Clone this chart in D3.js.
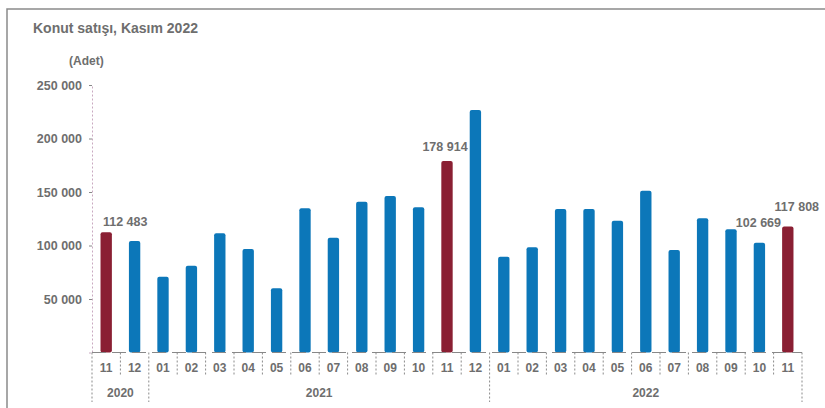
<!DOCTYPE html>
<html><head><meta charset="utf-8">
<script src="https://cdn.jsdelivr.net/npm/d3@7"></script>
<style>body{margin:0;background:#fff}svg{display:block}text{font-family:"Liberation Sans",Arial,sans-serif;font-weight:bold;fill:#6e6e6e}</style>
</head><body><svg id="c" width="825" height="408"></svg>
<script>
const months = ["11","12","01","02","03","04","05","06","07","08","09","10","11","12","01","02","03","04","05","06","07","08","09","10","11"];
const years = [{label:"2020",from:0,to:2},{label:"2021",from:2,to:14},{label:"2022",from:14,to:25}];
const values = [112483,104200,70800,81100,111400,96700,60000,134800,107300,140900,146300,135700,178914,226600,89500,98300,134100,134100,123200,151200,95800,125400,115100,102669,117808];
const highlight = [0,12,24];
const labelled = [0,12,23,24];
const yTicks = [50000,100000,150000,200000,250000];

const svg = d3.select("#c");
const blue = "#0c77b9", red = "#8a1f33";
// frame
svg.append("path").attr("d","M7,410 L7,9 L830,9").attr("fill","none").attr("stroke","#8a8a8a").attr("stroke-width",1.5);

svg.append("text").attr("x",33).attr("y",33).attr("font-size",14).text("Konut satışı, Kasım 2022");
svg.append("text").attr("x",69).attr("y",65).attr("font-size",12).text("(Adet)");

const x = d3.scaleBand().domain(d3.range(months.length)).range([92,802]).paddingInner(0.6).paddingOuter(0.3);
const y = d3.scaleLinear().domain([0,250000]).range([352.5,85]);
const fmt = v => d3.format(",")(v).replace(/,/g," ");

// y axis
const ya = svg.append("g").attr("transform","translate(92,0)")
  .call(d3.axisLeft(y).tickValues(yTicks).tickSize(3).tickPadding(7).tickFormat(fmt));
ya.select(".domain").attr("stroke","#c9a9c0").attr("stroke-dasharray","2,2");
ya.selectAll(".tick line").attr("stroke","#888");
ya.selectAll("text").attr("font-size",12.5).attr("fill","#6e6e6e").style("font-family","Liberation Sans, Arial").style("font-weight","bold");

// bars
svg.append("g").selectAll("rect").data(values).join("rect")
  .attr("x",(d,i)=>x(i)).attr("width",x.bandwidth())
  .attr("y",d=>y(d)).attr("height",d=>y(0)-y(d))
  .attr("rx",2)
  .attr("fill",(d,i)=>highlight.includes(i)?red:blue);

// x baseline
svg.append("line").attr("x1",92).attr("x2",802).attr("y1",y(0)).attr("y2",y(0)).attr("stroke","#888").attr("stroke-dasharray","14,6");

// month separators
const step = x.step();
const sepG = svg.append("g");
d3.range(months.length+1).forEach(i=>{
  const xx = i===0 ? 92 : (i===months.length ? 802 : x(i) - (step - x.bandwidth())/2);
  const isYear = years.some(yy=>yy.from===i) || i===months.length;
  sepG.append("line").attr("x1",xx).attr("x2",xx).attr("y1",y(0)).attr("y2",isYear?402:376)
    .attr("stroke","#8a8a8a").attr("stroke-dasharray","2,2");
});

// month labels
svg.append("g").selectAll("text").data(months).join("text")
  .attr("x",(d,i)=>x(i)+x.bandwidth()/2).attr("y",372).attr("text-anchor","middle").attr("font-size",12).text(d=>d);

// year labels
svg.append("g").selectAll("text").data(years).join("text")
  .attr("x",d=>{const a = d.from===0?92:x(d.from)-(step-x.bandwidth())/2; const b = d.to===months.length?802:x(d.to)-(step-x.bandwidth())/2; return (a+b)/2;})
  .attr("y",397).attr("text-anchor","middle").attr("font-size",12).text(d=>d.label);

// value labels
const offs = {0:[19,-6],12:[-2,-10],23:[-1,-16],24:[9,-15]};
svg.append("g").selectAll("text").data(labelled).join("text")
  .attr("x",i=>x(i)+x.bandwidth()/2+offs[i][0]).attr("y",i=>y(values[i])+offs[i][1])
  .attr("text-anchor","middle").attr("font-size",12.5).text(i=>fmt(values[i]));
</script></body></html>
